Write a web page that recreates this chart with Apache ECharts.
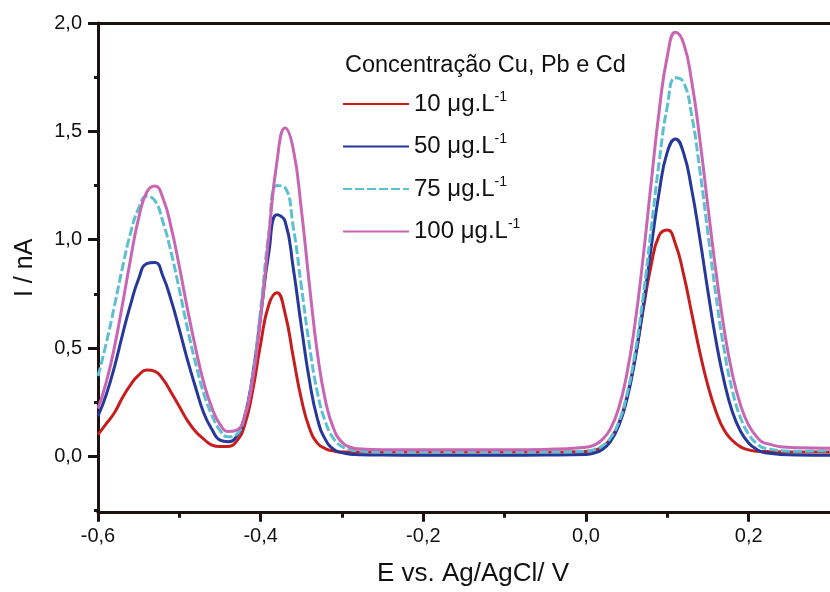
<!DOCTYPE html>
<html>
<head>
<meta charset="utf-8">
<script src="https://cdn.jsdelivr.net/npm/echarts@6/dist/echarts.min.js"></script>
<style>html,body{margin:0;padding:0;background:#fff}#c{width:830px;height:592px}</style>
</head>
<body>
<div id="c"></div>
<script>
const potentials = [-0.60,-0.59,-0.58,-0.57,-0.56,-0.55,-0.54,-0.53,-0.52,-0.51,-0.50,-0.49,-0.48,-0.47,-0.46,-0.45,-0.44,-0.43,-0.42,-0.41,-0.40,-0.39,-0.38,-0.37,-0.36,-0.35,-0.34,-0.33,-0.32,-0.31,-0.30,-0.29,-0.28,
  -0.25,-0.20,-0.15,-0.10,-0.05,
  0.00,0.01,0.02,0.03,0.04,0.05,0.06,0.07,0.08,0.09,0.10,0.11,0.12,0.13,0.14,0.15,0.16,0.17,0.18,0.19,0.20,0.21,0.22,
  0.26,0.30];
const conc10 = [0.10,0.15,0.20,0.27,0.33,0.375,0.398,0.392,0.355,0.295,0.23,0.165,0.115,0.08,0.052,0.045,0.046,0.068,0.14,0.30,0.52,0.70,0.755,0.66,0.46,0.265,0.13,0.06,0.035,0.025,0.02,0.02,0.02,
  0.02,0.02,0.02,0.02,0.02,
  0.023,0.028,0.043,0.08,0.15,0.27,0.45,0.67,0.88,1.02,1.045,0.98,0.84,0.66,0.48,0.325,0.205,0.12,0.073,0.044,0.03,0.024,0.022,
  0.02,0.02];
const conc50 = [0.185,0.283,0.41,0.56,0.70,0.82,0.89,0.895,0.83,0.72,0.586,0.445,0.318,0.20,0.125,0.075,0.068,0.09,0.18,0.37,0.65,0.94,1.115,1.085,0.87,0.60,0.35,0.17,0.075,0.032,0.017,0.01,0.008,
  0.006,0.005,0.005,0.005,0.006,
  0.009,0.015,0.032,0.068,0.138,0.258,0.44,0.683,0.96,1.22,1.405,1.465,1.40,1.23,1.005,0.76,0.53,0.344,0.205,0.116,0.062,0.032,0.017,
  0.006,0.005];
const conc75 = [0.37,0.52,0.69,0.87,1.03,1.146,1.20,1.18,1.08,0.94,0.77,0.59,0.43,0.29,0.19,0.12,0.09,0.10,0.18,0.37,0.68,1.03,1.25,1.24,1.06,0.785,0.51,0.29,0.155,0.08,0.045,0.03,0.025,
  0.02,0.02,0.02,0.02,0.02,
  0.024,0.031,0.048,0.085,0.155,0.28,0.47,0.73,1.045,1.36,1.616,1.747,1.726,1.573,1.32,1.026,0.736,0.489,0.303,0.178,0.102,0.059,0.037,
  0.024,0.025];
const conc100 = [0.22,0.34,0.50,0.70,0.91,1.10,1.22,1.248,1.19,1.056,0.876,0.68,0.50,0.34,0.225,0.148,0.115,0.12,0.18,0.35,0.64,1.015,1.36,1.515,1.42,1.14,0.79,0.47,0.25,0.125,0.065,0.042,0.035,
  0.03,0.03,0.03,0.03,0.032,
  0.042,0.052,0.077,0.127,0.22,0.376,0.606,0.91,1.258,1.595,1.847,1.957,1.906,1.729,1.462,1.15,0.846,0.583,0.379,0.237,0.144,0.09,0.061,
  0.04,0.038];
const seriesNames = ['10 μg.L-1','50 μg.L-1','75 μg.L-1','100 μg.L-1'];
const xMajorTicks = [-0.6,-0.4,-0.2,0.0,0.2];
const xMinorTicks = [-0.5,-0.3,-0.1,0.1];
const yMajorTicks = [0,0.5,1.0,1.5,2.0];
const yMinorTicks = [-0.25,0.25,0.75,1.25,1.75];
const legendTitle = 'Concentração Cu, Pb e Cd';
const xTitle = 'E vs. Ag/AgCl/ V';
const yTitle = 'I / nA';

const FONT = '"Liberation Sans", Arial, sans-serif';
const AX = '#1b1212';
const fmt = v => v.toFixed(1).replace('.', ',');
const colors = ['#c71d1d', '#26389a', '#5cc0d0', '#c866b4'];
const values = [conc10, conc50, conc75, conc100];

const chart = echarts.init(document.getElementById('c'), null, {renderer: 'canvas'});
const xBase = {type: 'value', min: -0.6, max: 0.3, splitLine: {show: false}};
const yBase = {type: 'value', min: -0.26, max: 2.0, splitLine: {show: false}};
chart.setOption({
  animation: false,
  backgroundColor: '#fff',
  title: {text: legendTitle, left: 345, top: 54, padding: 0, textStyle: {fontFamily: FONT, fontSize: 23.5, fontWeight: 'normal', color: '#111'}},
  legend: {
    orient: 'vertical', left: 342, top: 90, padding: 0, itemGap: 16.5, itemWidth: 66, itemHeight: 14,
    data: seriesNames,
    itemStyle: {opacity: 0},
    formatter: n => '{n|' + n.replace('-1', '') + '}{s|-1}',
    textStyle: {
      fontFamily: FONT, color: '#111', padding: [0, 0, 0, 0],
      rich: {
        n: {fontFamily: FONT, fontSize: 24, color: '#111', lineHeight: 28},
        s: {fontFamily: FONT, fontSize: 14, color: '#111', lineHeight: 28, verticalAlign: 'top', padding: [0, 0, 12, 0]}
      }
    }
  },
  grid: {left: 98, top: 23, width: 741.4, height: 489.7, containLabel: false},
  xAxis: [
    Object.assign({}, xBase, {
      position: 'bottom',
      name: xTitle, nameLocation: 'middle', nameGap: 48,
      nameTextStyle: {fontFamily: FONT, fontSize: 26, color: '#111', padding: [0, 0, 0, 18]},
      axisLine: {show: true, onZero: false, lineStyle: {color: AX, width: 3}},
      axisTick: {show: true, inside: false, length: 9, lineStyle: {color: AX, width: 3}, customValues: xMajorTicks},
      axisLabel: {show: true, margin: 14, fontFamily: FONT, fontSize: 20, color: '#111', customValues: xMajorTicks, formatter: fmt}
    }),
    Object.assign({}, xBase, {
      position: 'bottom',
      axisLine: {show: false, onZero: false},
      axisTick: {show: true, length: 5, lineStyle: {color: AX, width: 3}, customValues: xMinorTicks},
      axisLabel: {show: false}
    }),
    Object.assign({}, xBase, {
      position: 'top',
      axisLine: {show: true, onZero: false, lineStyle: {color: AX, width: 3}},
      axisTick: {show: false},
      axisLabel: {show: false}
    })
  ],
  yAxis: [
    Object.assign({}, yBase, {
      position: 'left',
      name: yTitle, nameLocation: 'middle', nameGap: 60, nameRotate: 90,
      nameTextStyle: {fontFamily: FONT, fontSize: 25, color: '#111', padding: [0, 0, 0, 0]},
      axisLine: {show: true, onZero: false, lineStyle: {color: AX, width: 3}},
      axisTick: {show: true, length: 10, lineStyle: {color: AX, width: 3}, customValues: yMajorTicks},
      axisLabel: {show: true, margin: 16, fontFamily: FONT, fontSize: 20, color: '#111', customValues: yMajorTicks, formatter: fmt}
    }),
    Object.assign({}, yBase, {
      position: 'left',
      axisLine: {show: false, onZero: false},
      axisTick: {show: true, length: 4, lineStyle: {color: AX, width: 3}, customValues: yMinorTicks},
      axisLabel: {show: false}
    })
  ],
  series: seriesNames.map((name, k) => ({
    name: name,
    type: 'line',
    xAxisIndex: 0, yAxisIndex: 0,
    data: potentials.map((x, i) => [x, values[k][i]]),
    smooth: 0.5,
    symbol: 'none',
    color: colors[k],
    lineStyle: {color: colors[k], width: 3, type: k === 2 ? [9, 3] : 'solid'},
    z: 2 + k
  }))
});
</script>
</body>
</html>
